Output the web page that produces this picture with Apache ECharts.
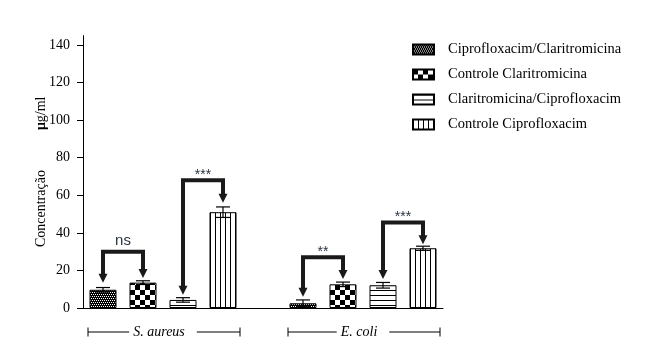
<!DOCTYPE html>
<html>
<head>
<meta charset="utf-8">
<script src="https://cdn.jsdelivr.net/npm/echarts@6/dist/echarts.min.js"></script>
<style>
  html, body { margin: 0; padding: 0; background: #fff; }
  #chart { width: 662px; height: 347px; }
</style>
</head>
<body>
<div id="chart"></div>
<script>
  // x slots: 4 bars, an empty slot, 4 bars
  const slots = ['sa1', 'sa2', 'sa3', 'sa4', 'gap', 'ec1', 'ec2', 'ec3', 'ec4'];
  const groups = ['S. aureus', 'E. coli'];
  const groupStart = [0, 5];
  const seriesNames = [
    'Ciprofloxacim/Claritromicina',
    'Controle Claritromicina',
    'Claritromicina/Ciprofloxacim',
    'Controle Ciprofloxacim',
  ];

  // means per group [S. aureus, E. coli]
  const cipClaMean = [9.7, 2.5];
  const ctrlClaMean = [13.5, 12.6];
  const claCipMean = [4.3, 12.1];
  const ctrlCipMean = [51, 31.8];
  // error bars
  const cipClaErr = [1.2, 1.8];
  const ctrlClaErr = [1, 1.2];
  const claCipErr = [1.2, 1.5];
  const ctrlCipErr = [2.8, 1.1];

  const yTicks = [0, 20, 40, 60, 80, 100, 120, 140];

  // brackets: [from slot, to slot, bracket height, left tip, right tip, label]
  const brackets = [
    [0, 1, 30, 13.5, 16, 'ns'],
    [2, 3, 68, 7, 56, '***'],
    [5, 6, 27, 6, 15.5, '**'],
    [7, 8, 45.5, 15.5, 34, '***'],
  ];

  const serif = '"Liberation Serif", "DejaVu Serif", serif';

  function makePattern(w, h, draw) {
    const c = document.createElement('canvas');
    c.width = w;
    c.height = h;
    const ctx = c.getContext('2d');
    ctx.fillStyle = '#fff';
    ctx.fillRect(0, 0, w, h);
    ctx.fillStyle = '#000';
    draw(ctx);
    return { image: c, repeat: 'repeat' };
  }

  const patterns = [
    makePattern(4, 4, (ctx) => {
      ctx.fillRect(0, 0, 4, 4);
      ctx.fillStyle = '#fff';
      ctx.fillRect(0, 0, 1, 1);
      ctx.fillRect(2, 0, 1, 1);
      ctx.fillRect(1, 2, 1, 1);
      ctx.fillRect(3, 2, 1, 1);
    }),
    makePattern(10, 10, (ctx) => {
      ctx.fillRect(0, 0, 5, 5);
      ctx.fillRect(5, 5, 5, 5);
    }),
    makePattern(1, 5, (ctx) => ctx.fillRect(0, 0, 1, 1)),
    makePattern(5, 1, (ctx) => ctx.fillRect(0, 0, 1, 1)),
  ];

  const means = [cipClaMean, ctrlClaMean, claCipMean, ctrlCipMean];
  const errs = [cipClaErr, ctrlClaErr, claCipErr, ctrlCipErr];

  const barSeries = seriesNames.map((name, i) => {
    const data = slots.map(() => '-');
    groupStart.forEach((s, g) => {
      data[s + i] = means[i][g];
    });
    return {
      name,
      type: 'bar',
      stack: 'all',
      barWidth: 27,
      data,
      itemStyle: { color: patterns[i], borderColor: '#000', borderWidth: 1 },
      z: 2,
    };
  });

  const errData = [];
  seriesNames.forEach((_, i) => {
    groupStart.forEach((s, g) => {
      errData.push([s + i, means[i][g], errs[i][g]]);
    });
  });

  const measure = document.createElement('canvas').getContext('2d');

  const chart = echarts.init(document.getElementById('chart'));

  const option = {
    backgroundColor: '#fff',
    animation: false,
    grid: { left: 83, right: 219, top: 35.6, bottom: 39 },
    legend: {
      data: seriesNames,
      orient: 'vertical',
      left: 412,
      top: 42,
      padding: 0,
      itemWidth: 21,
      itemHeight: 10,
      itemGap: 10,
      icon: 'rect',
      textStyle: { fontFamily: serif, fontSize: 14.5, color: '#000', padding: [0, 0, 0, 9] },
    },
    xAxis: {
      type: 'category',
      data: slots,
      axisLine: { lineStyle: { color: '#000', width: 1 } },
      axisTick: { alignWithLabel: true, length: 6, lineStyle: { color: '#000' } },
      axisLabel: { show: false },
      splitLine: { show: false },
    },
    yAxis: {
      type: 'value',
      min: 0,
      max: 145,
      interval: 20,
      name: 'Concentração{m|μ}g/ml',
      nameLocation: 'middle',
      nameGap: 35,
      nameMoveOverlap: false,
      nameRotate: 90,
      nameTextStyle: {
        fontFamily: serif,
        fontSize: 14,
        color: '#000',
        rich: {
          m: { fontFamily: serif, fontSize: 14, fontWeight: 'bold', color: '#000', padding: [0, 0, 0, 40] },
        },
      },
      axisLine: { show: true, lineStyle: { color: '#000', width: 1 } },
      axisTick: { show: true, length: 6, customValues: yTicks, lineStyle: { color: '#000' } },
      axisLabel: { customValues: yTicks, margin: 13, fontFamily: serif, fontSize: 14, color: '#000' },
      splitLine: { show: false },
    },
    series: [
      ...barSeries,
      {
        type: 'custom',
        name: 'err',
        z: 5,
        clip: false,
        encode: { x: 0, y: 1 },
        data: errData,
        renderItem: (params, api) => {
          const x = api.value(0);
          const m = api.value(1);
          const e = api.value(2);
          const top = api.coord([x, m + e]);
          const bot = api.coord([x, m - e]);
          const hw = 7;
          const st = { stroke: '#000', lineWidth: 1.2 };
          return {
            type: 'group',
            children: [
              { type: 'line', shape: { x1: top[0], y1: top[1], x2: bot[0], y2: bot[1] }, style: st },
              { type: 'line', shape: { x1: top[0] - hw, y1: top[1], x2: top[0] + hw, y2: top[1] }, style: st },
              { type: 'line', shape: { x1: bot[0] - hw, y1: bot[1], x2: bot[0] + hw, y2: bot[1] }, style: st },
            ],
          };
        },
      },
      {
        type: 'custom',
        name: 'brackets',
        z: 6,
        clip: false,
        encode: { x: [0, 1], y: [2, 3, 4] },
        data: brackets.map((b) => [b[0], b[1], b[2], b[3], b[4]]),
        renderItem: (params, api) => {
          const b = brackets[params.dataIndex];
          const pL = api.coord([b[0], b[2]]);
          const pR = api.coord([b[1], b[2]]);
          const tL = api.coord([b[0], b[3]]);
          const tR = api.coord([b[1], b[4]]);
          const ah = 9;
          const aw = 4.5;
          const isNs = b[5] === 'ns';
          return {
            type: 'group',
            children: [
              {
                type: 'polyline',
                shape: { points: [[pL[0], tL[1] - ah + 1], [pL[0], pL[1]], [pR[0], pR[1]], [pR[0], tR[1] - ah + 1]] },
                style: { stroke: '#1a1a1a', lineWidth: 4, fill: null, lineJoin: 'miter' },
              },
              {
                type: 'polygon',
                shape: { points: [[tL[0] - aw, tL[1] - ah], [tL[0] + aw, tL[1] - ah], [tL[0], tL[1]]] },
                style: { fill: '#1a1a1a' },
              },
              {
                type: 'polygon',
                shape: { points: [[tR[0] - aw, tR[1] - ah], [tR[0] + aw, tR[1] - ah], [tR[0], tR[1]]] },
                style: { fill: '#1a1a1a' },
              },
              {
                type: 'text',
                x: (pL[0] + pR[0]) / 2,
                y: isNs ? pL[1] - 3 : pL[1] + 2,
                style: {
                  text: b[5],
                  fontFamily: 'Liberation Sans, Arial, sans-serif',
                  fontSize: isNs ? 15 : 14,
                  fill: '#2a3340',
                  align: 'center',
                  verticalAlign: 'bottom',
                },
              },
            ],
          };
        },
      },
      {
        type: 'custom',
        name: 'groups',
        z: 6,
        clip: false,
        encode: { x: [0, 1], y: 2 },
        data: groupStart.map((s) => [s, s + 3, 0]),
        renderItem: (params, api) => {
          const a = api.coord([api.value(0), 0]);
          const b = api.coord([api.value(1), 0]);
          const y = a[1] + 24;
          const x1 = a[0] - 15;
          const x2 = b[0] + 17;
          const label = groups[params.dataIndex];
          measure.font = 'italic 14px ' + serif;
          const tw = measure.measureText(label).width;
          const cx = (x1 + x2) / 2 - 5;
          const tl = cx - tw / 2;
          const tr = cx + tw / 2;
          const st = { stroke: '#000', lineWidth: 1 };
          return {
            type: 'group',
            children: [
              { type: 'line', shape: { x1, y1: y, x2: tl - 4, y2: y }, style: st },
              { type: 'line', shape: { x1: tr + 12, y1: y, x2, y2: y }, style: st },
              { type: 'line', shape: { x1, y1: y - 4.5, x2: x1, y2: y + 4.5 }, style: st },
              { type: 'line', shape: { x1: x2, y1: y - 4.5, x2, y2: y + 4.5 }, style: st },
              {
                type: 'text',
                x: cx,
                y,
                style: {
                  text: label,
                  fontFamily: serif,
                  fontStyle: 'italic',
                  fontSize: 14,
                  fill: '#000',
                  align: 'center',
                  verticalAlign: 'middle',
                },
              },
            ],
          };
        },
      },
    ],
  };

  chart.setOption(option);
</script>
</body>
</html>
